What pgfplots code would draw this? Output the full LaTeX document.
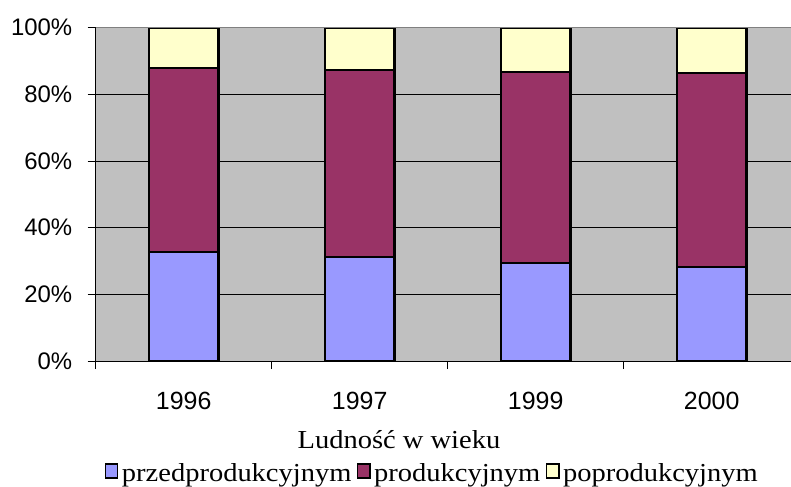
\documentclass[border=0pt]{standalone}
\usepackage{pgfplots}
\pgfplotsset{compat=1.18}
\usepackage{fontspec}
\setmainfont{Liberation Serif}
\newfontfamily\wtimes[FakeStretch=1.1]{Liberation Serif}
\newfontfamily\arial{Liberation Sans}
\definecolor{cblue}{HTML}{9999FF}
\definecolor{cpurple}{HTML}{993366}
\definecolor{cyellow}{HTML}{FFFFCC}
\definecolor{cgray}{HTML}{C0C0C0}
\definecolor{cblack}{HTML}{000000}
\begin{document}
\begin{tikzpicture}
\begin{axis}[
 at={(95.7bp,126bp)}, anchor=south west,
 scale only axis, width=704bp, height=333.3bp,
 ybar stacked, bar width=69.6bp,
 xmin=-0.5, xmax=3.5, ymin=0, ymax=100,
 xtick={-0.5,0.5,1.5,2.5}, xticklabels={},
 extra x ticks={0,1,2,3}, extra x tick labels={1996,1997,1999,2000},
 extra x tick style={major tick length=0pt, xticklabel style={yshift=-28bp, font=\arial\fontsize{25}{28}\selectfont}},
 ytick={0,20,...,100},
 yticklabel={\pgfmathprintnumber{\tick}\%},
 ymajorgrids, major grid style={black, line width=0.8bp},
 tick align=outside, major tick length=8bp,
 tick style={black, line width=0.8bp},
 axis x line*=bottom, axis y line*=left,
 axis line style={black, line width=0.8bp, -},
 axis background/.style={fill=cgray},
 /pgf/number format/assume math mode=true,
 tick label style={font=\arial\fontsize{24}{28}\selectfont},
 yticklabel style={xshift=-12bp},
 area legend,
 legend image code/.code={\draw[#1, line width=1.4bp] (0bp,-5bp) rectangle (12.3bp,9bp);},
 legend columns=3,
 legend style={at={(0.4777,-0.37)}, anchor=south, draw=none, fill=none,
   font=\wtimes\fontsize{26}{29}\selectfont, inner sep=0pt,
   nodes={inner sep=1.5bp},
   /tikz/every odd column/.append style={column sep=2bp},
   /tikz/every even column/.append style={column sep=4bp}},
]
\draw[color=gray, line width=1bp] (rel axis cs:0,1) -- (rel axis cs:1,1);
\addplot[fill=cblue, draw=cblack, line width=2.2bp] coordinates {(0,32.6) (1,31.3) (2,29.5) (3,28.3)};
\addplot[fill=cpurple, draw=cblack, line width=2.2bp] coordinates {(0,55.4) (1,56.0) (2,57.3) (3,58.0)};
\addplot[fill=cyellow, draw=cblack, line width=2.2bp] coordinates {(0,12.0) (1,12.7) (2,13.2) (3,13.7)};
\legend{przedprodukcyjnym, produkcyjnym, poprodukcyjnym}
\end{axis}
\node[anchor=base, font=\wtimes\fontsize{26}{29}\selectfont, inner sep=0pt] at (399bp,39bp) {Ludność w wieku};
\pgfresetboundingbox
\path (0,0) rectangle (791bp,487bp);
\end{tikzpicture}
\end{document}
